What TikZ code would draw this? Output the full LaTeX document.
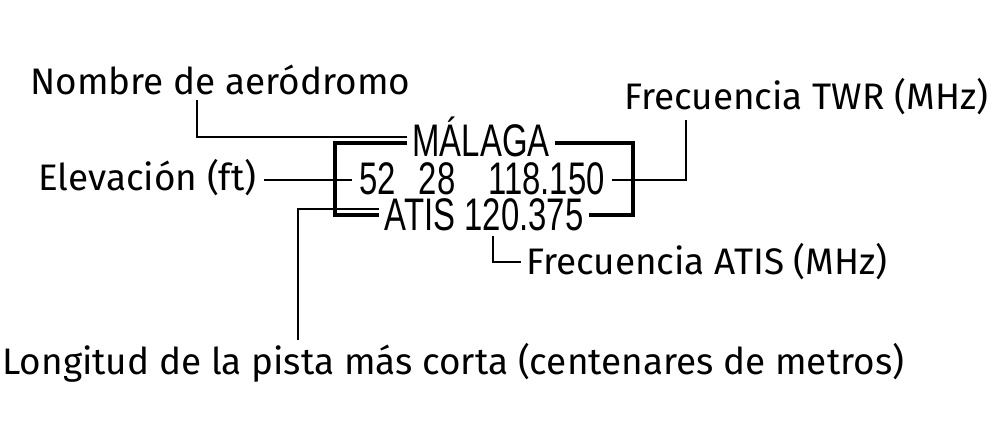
\documentclass[tikz,border=0pt]{standalone}
\usepackage{fontspec}
\setmainfont{Fira Sans}
\newfontfamily\boxfont{Liberation Sans}
\usetikzlibrary{positioning}

\begin{document}
\begin{tikzpicture}[
    x=0.02cm, y=-0.02cm,
    label/.style={inner sep=0pt, font=\fontsize{21}{24}\selectfont},
    entry/.style={inner sep=0pt, font=\boxfont\fontsize{26}{28}\selectfont},
    frame/.style={line width=1.8pt},
    lead/.style={line width=0.9pt}
]
\useasboundingbox (0,0) rectangle (1001,439);

% labels
\node[label, anchor=west] (name) at (30,80) {Nombre de aeródromo};
\node[label, anchor=west] (elev) at (38,178) {Elevación (ft)};
\node[label, anchor=west] (twr) at (624,97) {Frecuencia TWR (MHz)};
\node[label, anchor=west] (atis) at (526,262) {Frecuencia ATIS (MHz)};
\node[label, anchor=west] (runway) at (2,363) {Longitud de la pista más corta (centenares de metros)};

% box entries
\node[entry] (city) at (481,137) {\scalebox{0.72}[1]{MÁLAGA}};
\node[entry] (data) at (482,179) {\scalebox{0.72}[1]{52\hspace{0.7em}28\hspace{1em}118.150}};
\node[entry] (freq) at (484,215) {\scalebox{0.72}[1]{ATIS 120.375}};

% frame
\draw[frame] ([xshift=-3pt]city.west |- 0,143) -- (335,143) -- (335,215) -- ([xshift=-3pt]freq.west |- 0,215);
\draw[frame] ([xshift=3pt]city.east |- 0,143) -- (633,143) -- (633,215) -- ([xshift=3pt]freq.east |- 0,215);

% leaders
\draw[lead] (197,100) -- (197,137) -- ([xshift=-3pt]city.west);
\draw[lead] ([xshift=4pt]elev.east |- 0,180) -- ([xshift=-4pt]data.west |- 0,180);
\draw[lead] ([xshift=4pt]data.east |- 0,180) -- (686,180) -- (686,120);
\draw[lead] (298,340) -- (298,209) -- ([xshift=-3pt]freq.west |- 0,209);
\draw[lead] (493,236) -- (493,262) -- ([xshift=-3pt]atis.west);
\end{tikzpicture}
\end{document}
